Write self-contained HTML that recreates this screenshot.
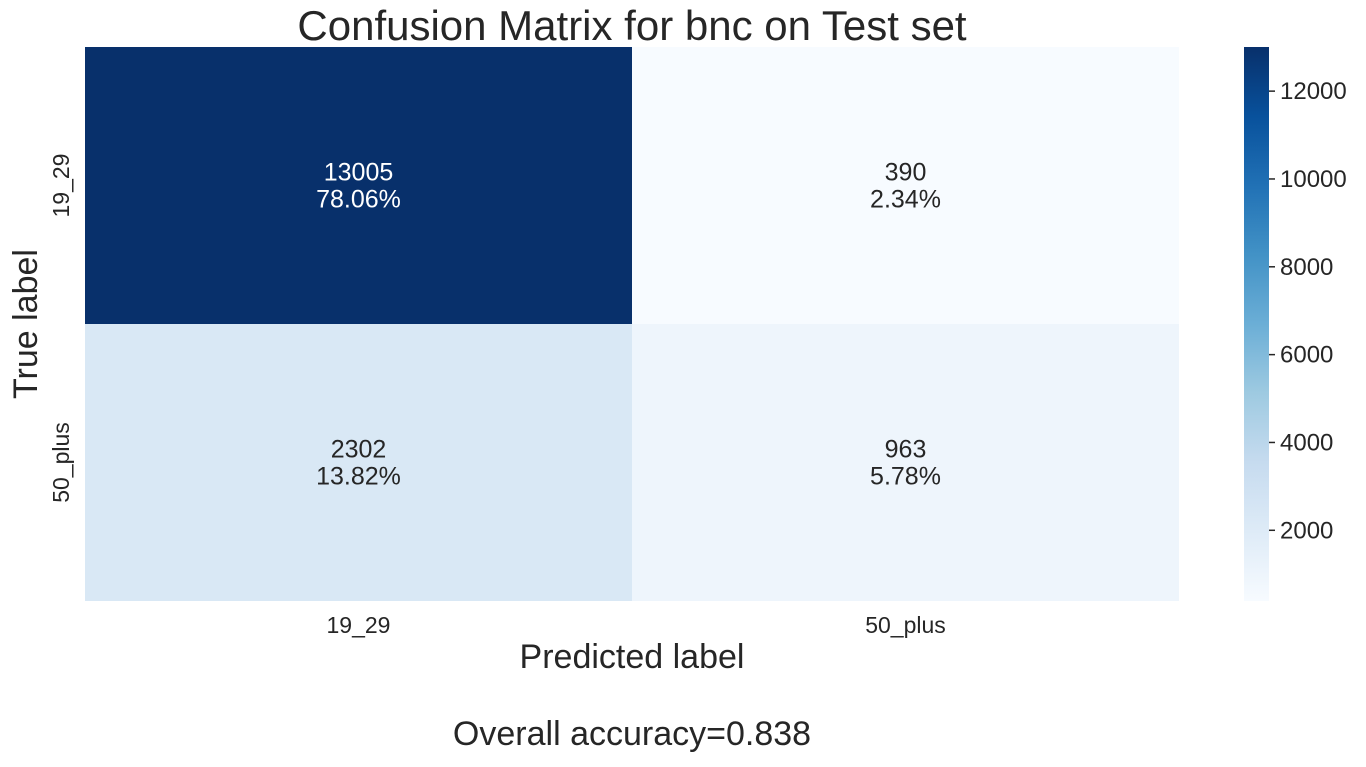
<!DOCTYPE html>
<html><head><meta charset="utf-8"><style>
body{margin:0;background:#fff;}
svg text{font-family:"Liberation Sans",Arial,sans-serif;fill:#262626;}
</style></head><body>
<svg width="1366" height="762" xmlns="http://www.w3.org/2000/svg" id="chart">
<defs>
<linearGradient id="blues" x1="0" y1="1" x2="0" y2="0">
<stop offset="0" stop-color="#f7fbff"/><stop offset="0.125" stop-color="#deebf7"/>
<stop offset="0.25" stop-color="#c6dbef"/><stop offset="0.375" stop-color="#9ecae1"/>
<stop offset="0.5" stop-color="#6baed6"/><stop offset="0.625" stop-color="#4292c6"/>
<stop offset="0.75" stop-color="#2171b5"/><stop offset="0.875" stop-color="#08519c"/>
<stop offset="1" stop-color="#08306b"/>
</linearGradient>
</defs>
<text x="632" y="40" font-size="42" text-anchor="middle">Confusion Matrix for bnc on Test set</text>
<g id="cells"></g>
<rect x="1244" y="47" width="25" height="554" fill="url(#blues)"/>
<g id="cbticks"></g>
<text x="632" y="668" font-size="34" text-anchor="middle">Predicted label</text>
<text transform="translate(37,324) rotate(-90)" font-size="34" text-anchor="middle">True label</text>
<text x="632" y="745" font-size="34" text-anchor="middle">Overall accuracy=0.838</text>
</svg>
<script>
const labels=["19_29","50_plus"];
const counts=[[13005,390],[2302,963]];
const pcts=["78.06%","2.34%","13.82%","5.78%"];
const cbTicks=[2000,4000,6000,8000,10000,12000];
const X0=85,X1=1179,Y0=47,Y1=601;
const ns="http://www.w3.org/2000/svg";
const flat=counts.flat();const vmin=Math.min(...flat),vmax=Math.max(...flat);
const stops=[[247,251,255],[222,235,247],[198,219,239],[158,202,225],[107,174,214],[66,146,198],[33,113,181],[8,81,156],[8,48,107]];
function color(v){let t=(v-vmin)/(vmax-vmin)*8;let i=Math.min(7,Math.floor(t));let f=t-i;
const c=stops[i].map((a,k)=>Math.round(a+(stops[i+1][k]-a)*f));return `rgb(${c})`;}
function mk(tag,attrs,parent,txt){const e=document.createElementNS(ns,tag);for(const k in attrs)e.setAttribute(k,attrs[k]);if(txt!==undefined)e.textContent=txt;parent.appendChild(e);return e;}
const g=document.getElementById('cells'),svg=document.getElementById('chart');
const cw=(X1-X0)/labels.length,ch=(Y1-Y0)/labels.length;
let p=0;
for(let r=0;r<labels.length;r++)for(let c=0;c<labels.length;c++){
 const v=counts[r][c];const t=(v-vmin)/(vmax-vmin);
 const rc=mk('rect',{x:X0+c*cw,y:Y0+r*ch,width:cw,height:ch,fill:color(v)},g);
 
 
 const fill=t>0.5?'#ffffff':'#262626';
 const t1=mk('text',{x:X0+(c+.5)*cw,y:Y0+(r+.5)*ch-5,'font-size':25,'text-anchor':'middle',style:'fill:'+fill},g,String(v));
 
 
 const t2=mk('text',{x:X0+(c+.5)*cw,y:Y0+(r+.5)*ch+22,'font-size':25,'text-anchor':'middle',style:'fill:'+fill},g,pcts[p++]);
 
 
}
labels.forEach((l,i)=>{
 const xt=mk('text',{x:X0+(i+.5)*cw,y:633,'font-size':23,'text-anchor':'middle'},svg,l);
 
 
 const cy=Y0+(i+.5)*ch;
 const yt=mk('text',{transform:`translate(69,${cy}) rotate(-90)`,'font-size':23,'text-anchor':'middle'},svg,l);
 
 
});
const cb=document.getElementById('cbticks');
cbTicks.forEach(v=>{
 const y=Y1-(v-vmin)/(vmax-vmin)*(Y1-Y0);
 const ln=mk('line',{x1:1269,x2:1275,y1:y,y2:y,stroke:'#262626','stroke-width':1.5},cb);
 
 
 const tx=mk('text',{x:1280,y:y+8,'font-size':24},cb,String(v));
 
 
});
</script>
</body></html>
